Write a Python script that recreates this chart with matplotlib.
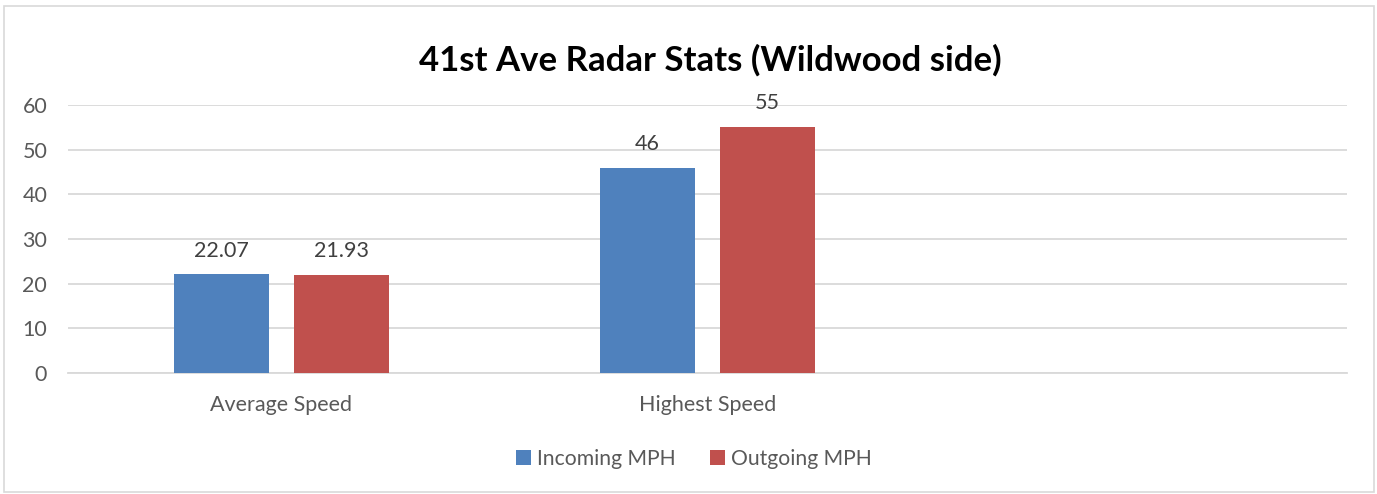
import numpy as np
import matplotlib.pyplot as plt
from matplotlib.patches import Rectangle

plt.rcParams["font.family"] = ["Lato", "DejaVu Sans"]

categories = ["Average Speed", "Highest Speed"]
incoming_mph = [22.07, 46]
outgoing_mph = [21.93, 55]
label_in = ["22.07", "46"]
label_out = ["21.93", "55"]
series_names = ["Incoming MPH", "Outgoing MPH"]
n_slots = 3  # chart reserves an empty third category slot

BLUE = "#4F81BD"
RED = "#C0504D"
TXT = "#595959"
GRID = "#D9D9D9"

fig = plt.figure(figsize=(13.77, 4.94), dpi=100)
ax = fig.add_axes([68 / 1377, 1 - 373 / 494, (1347 - 68) / 1377, (373 - 105) / 494])

x = np.arange(len(categories))
width = 95 / 426
off = 60 / 426

b1 = ax.bar(x - off, incoming_mph, width, color=BLUE, label=series_names[0], zorder=3)
b2 = ax.bar(x + off, outgoing_mph, width, color=RED, label=series_names[1], zorder=3)

for bars, labels in [(b1, label_in), (b2, label_out)]:
    for rect, lab in zip(bars, labels):
        ax.annotate(lab, (rect.get_x() + rect.get_width() / 2, rect.get_height()),
                    xytext=(0, 10), textcoords="offset points",
                    ha="center", va="bottom", fontsize=15.5, color="#404040")

ax.set_xlim(-0.5, n_slots - 0.5)
ax.set_ylim(0, 60)
ax.set_yticks(range(0, 61, 10))
ax.set_xticks(x)
ax.set_xticklabels(categories)
ax.tick_params(axis="both", length=0, labelsize=15.5, colors=TXT)
ax.tick_params(axis="x", pad=16)
ax.tick_params(axis="y", pad=15)
ax.yaxis.grid(True, color=GRID, linewidth=1.3, zorder=0)
for s in ["top", "right", "left"]:
    ax.spines[s].set_visible(False)
ax.spines["bottom"].set_color(GRID)
ax.spines["bottom"].set_linewidth(1.3)

fig.text(710 / 1377, 1 - 60 / 494, "41st Ave Radar Stats (Wildwood side)",
         ha="center", va="center", fontsize=25, fontweight="bold", color="black")

fig.legend(handles=[b1, b2], loc="center", bbox_to_anchor=(694 / 1377, 1 - 459 / 494),
           ncol=2, frameon=False, fontsize=15.2, labelcolor=TXT,
           handlelength=0.7, handleheight=0.7, handletextpad=0.3, columnspacing=1.6)

fig.patches.append(Rectangle((4 / 1377, 2 / 494), 1370 / 1377, 486 / 494,
                             transform=fig.transFigure, fill=False,
                             edgecolor="#D9D9D9", linewidth=1.2))

fig.savefig("out.png", dpi=100)
